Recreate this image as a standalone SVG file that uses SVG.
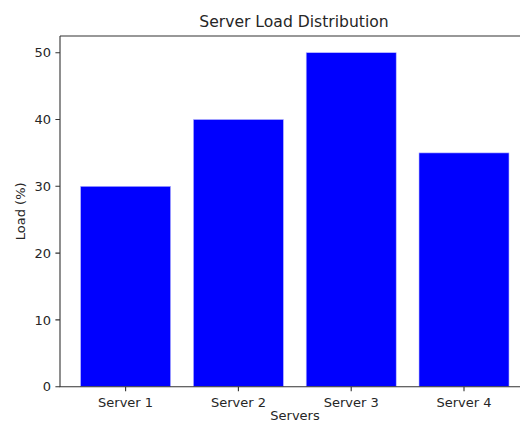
<svg xmlns="http://www.w3.org/2000/svg" width="520" height="423" viewBox="0 0 520 423">
<style>
text{font-family:"DejaVu Sans","Liberation Sans",sans-serif;fill:#262626}
.tk{font-size:13px}
.bar{fill:#0000ff;stroke:#b8b8ff;stroke-width:0.6}
.sp{stroke:#333;stroke-width:1.1;fill:none}
</style>
<rect width="520" height="423" fill="#fff"/>
<g id="bars">
<g id="bar1"><rect class="bar" x="80.6" y="186.3" width="90" height="200.4"/></g>
<g id="bar2"><rect class="bar" x="193.4" y="119.5" width="90" height="267.2"/></g>
<g id="bar3"><rect class="bar" x="306.2" y="52.7" width="90" height="334"/></g>
<g id="bar4"><rect class="bar" x="419" y="152.9" width="90" height="233.8"/></g>
</g>
<g id="axes">
<path class="sp" d="M60,36 V386.7 H520 M60,36 H520"/>
<path class="sp" d="M55.4,386.7H60M55.4,319.9H60M55.4,253.1H60M55.4,186.3H60M55.4,119.5H60M55.4,52.7H60"/>
<path class="sp" d="M125.6,386.7V391.3M238.4,386.7V391.3M351.2,386.7V391.3M464,386.7V391.3"/>
</g>
<g id="labels">
<text class="tk" x="51" y="391.4" text-anchor="end">0</text>
<text class="tk" x="51" y="324.6" text-anchor="end">10</text>
<text class="tk" x="51" y="257.8" text-anchor="end">20</text>
<text class="tk" x="51" y="191" text-anchor="end">30</text>
<text class="tk" x="51" y="124.2" text-anchor="end">40</text>
<text class="tk" x="51" y="57.4" text-anchor="end">50</text>
<text class="tk" x="125.6" y="407.3" text-anchor="middle">Server 1</text>
<text class="tk" x="238.4" y="407.3" text-anchor="middle">Server 2</text>
<text class="tk" x="351.2" y="407.3" text-anchor="middle">Server 3</text>
<text class="tk" x="464" y="407.3" text-anchor="middle">Server 4</text>
<text class="tk" x="295" y="419.5" text-anchor="middle">Servers</text>
<text class="tk" transform="translate(25,211.3) rotate(-90)" text-anchor="middle">Load (%)</text>
<text x="294" y="27" font-size="15.6" text-anchor="middle">Server Load Distribution</text>
</g>
</svg>
